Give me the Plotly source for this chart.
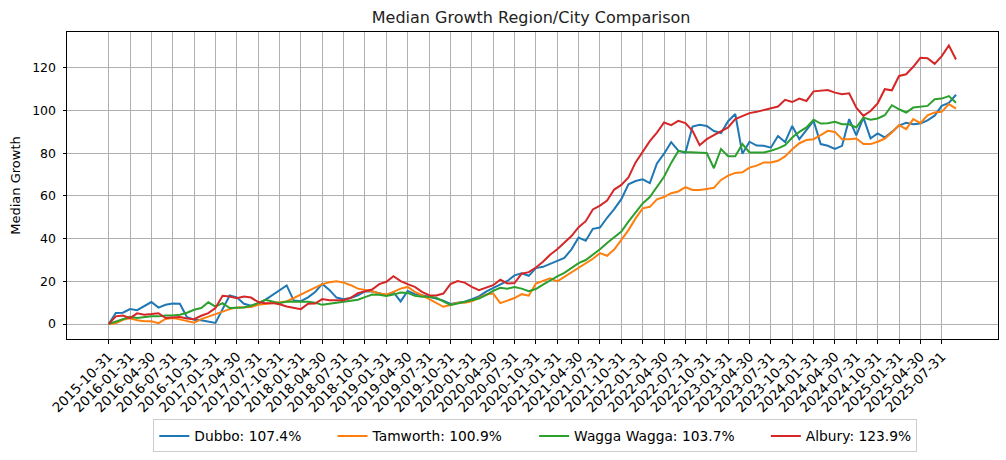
import pandas as pd
import plotly.graph_objects as go

# month-end dates, 2015-10-31 .. 2025-09-30
dates = pd.date_range('2015-10-31', periods=120, freq='ME').strftime('%Y-%m-%d').tolist()
tick_dates = dates[::3]

dubbo = [0, 5.2, 5.3, 7, 6.5, 8.6, 10.3, 7.7, 9, 9.6,
         9.5, 3.2, 2, 1.8, 1.2, 0.5, 7, 13.4, 12.5, 9.5,
         8.6, 9.6, 11.3, 13.7, 15.8, 18.1, 11, 10.7, 12.5, 15,
         18.8, 16, 12.4, 11.6, 12.2, 13.5, 15.3, 15.3, 14.4, 13.5,
         14.9, 10.6, 15.5, 14, 13.5, 12.8, 12, 11, 9.4, 10,
         10.5, 11.6, 13, 15.2, 16.8, 18.5, 20.2, 22.8, 23.8, 22.6,
         26.2, 26.8, 28.1, 29.6, 31, 35, 40.5, 39, 44.6, 45.2,
         49.8, 53.8, 58.5, 65.5, 67, 67.8, 66, 75.2, 79.8, 85.2,
         81.2, 80.2, 92.5, 93.4, 92.8, 90.4, 89.5, 95, 98.4, 79.8,
         85.4, 83.6, 83.5, 82.6, 88.1, 85.2, 92.8, 86.6, 90.8, 95.2,
         84.3, 83.5, 82, 83.5, 96, 88.4, 96.7, 87, 89.3, 87.4,
         90, 93, 94.3, 93.6, 93.9, 95.4, 97.6, 102.2, 103.6, 107.4]

tamworth = [0, 0.4, 2, 2.7, 1.8, 1.3, 1.3, 0.4, 2.4, 2.8,
            2.2, 1.5, 0.6, 2.3, 3.5, 4.5, 5.8, 7, 7.8, 7.9,
            8, 9, 9.5, 9.8, 10.2, 10.6, 12.2, 13.8, 15.4, 17,
            18.7, 19.6, 20, 19.4, 18.2, 16.6, 15.9, 15.4, 14.3, 13.8,
            15.1, 16.6, 17.4, 15.1, 13.5, 11.7, 9.6, 8.1, 8.9, 10,
            10, 10.7, 12.3, 13.8, 14.3, 9.8, 11, 12.2, 14, 13.3,
            19, 20.2, 21.4, 20, 22.1, 24.2, 26.5, 28.3, 30.6, 33.2,
            32, 34.9, 39.2, 44, 49.5, 54.2, 54.9, 58.4, 59.5, 61.3,
            62.1, 64.1, 62.8, 62.8, 63.3, 63.8, 67.5, 69.5, 70.8, 71.1,
            73.3, 74.2, 75.7, 75.7, 76.5, 78.5, 81.9, 84.7, 86.2, 86.6,
            88.5, 90.5, 90, 86.6, 86.6, 86.9, 84.3, 84.3, 85.4, 86.9,
            89.7, 93.2, 91.3, 96, 94.1, 97.8, 99.1, 99.4, 103, 100.9]

wagga = [0, 1.2, 2.3, 3.4, 2.8, 3.3, 3.6, 3.6, 4, 4,
         4.4, 5.3, 6.7, 7.5, 10.2, 8.2, 9.8, 7.5, 7.8, 7.8,
         8.6, 9.8, 11.4, 10.6, 9.8, 10.6, 10.6, 10.6, 10.4, 10,
         9, 9.5, 10, 10.7, 11.2, 11.4, 12.6, 13.8, 13.7, 13.2,
         13.8, 14.8, 14.6, 13.2, 12.8, 12.8, 12.3, 10.4, 8.9, 9.6,
         10.4, 11, 12, 13.5, 15.5, 17, 16.6, 17.4, 16.6, 15.4,
         16.4, 18.5, 20.5, 22.3, 24, 26.2, 28.5, 30, 32.5, 35,
         38, 40.5, 43.3, 48, 52.5, 56.5, 59.5, 64.5, 69, 75.5,
         81, 80.6, 80.4, 80.4, 80.1, 73, 82, 78.6, 78.6, 84.3,
         80.4, 80.4, 80.4, 81.2, 82.3, 83.8, 87.4, 90, 92.1, 95.7,
         93.9, 94.1, 94.7, 93.6, 93.6, 92.1, 96.7, 95.7, 96.3, 97.8,
         102.5, 100.6, 99.1, 101.4, 101.9, 102.2, 105.3, 105.6, 106.8, 103.7]

albury = [0, 3.6, 4, 2.8, 5, 4.4, 4.7, 5.1, 2.8, 3.1,
          3.3, 2.6, 2.3, 3.9, 5.1, 7.5, 13.2, 12.9, 12.1, 12.9,
          12.4, 10.3, 9.8, 9.8, 9.3, 8.2, 7.6, 7, 9.5, 9.6,
          11.7, 11.2, 11.2, 11.2, 12.3, 14.5, 15.4, 16.2, 18.7, 19.8,
          22.4, 20.1, 18.7, 17.4, 15.1, 13.5, 13.4, 14.3, 18.7, 20.1,
          19.4, 17.4, 15.9, 17, 18.2, 20.8, 19, 19.2, 23.6, 24.3,
          26.5, 29.2, 32.5, 35, 38, 41.2, 45.4, 48.2, 53.7, 55.5,
          57.9, 63, 65.2, 68.7, 75.7, 81, 85.7, 89.7, 94.4, 93.2,
          95.2, 94.1, 90.5, 83.8, 86.6, 88.5, 90.5, 92.1, 96, 97.5,
          98.8, 99.4, 100.3, 101, 101.9, 105, 104, 105.6, 104.5, 109,
          109.2, 109.6, 108.4, 107.6, 108.1, 101.4, 97.5, 99.8, 103.4, 110,
          109.5, 116.2, 117, 120.5, 124.7, 124.5, 121.9, 125.5, 130.5, 123.9]

series = [('Dubbo', dubbo, '#1f77b4'),
          ('Tamworth', tamworth, '#ff7f0e'),
          ('Wagga Wagga', wagga, '#2ca02c'),
          ('Albury', albury, '#d62728')]
gaps = [6, 6, 6, 0]  # extra spacing after each legend entry

fig = go.Figure()
for (name, vals, col), g in zip(series, gaps):
    label = '%s: %.1f%%' % (name, vals[-1]) + '\u00a0' * g
    fig.add_trace(go.Scatter(x=dates, y=vals, mode='lines', name=label,
                             line=dict(color=col, width=2)))

font = 'DejaVu Sans, sans-serif'
fig.update_layout(
    width=1006, height=460,
    margin=dict(l=67, r=8, t=32, b=119),
    plot_bgcolor='white', paper_bgcolor='white',
    font=dict(family=font, size=12.5, color='black'),
    title=dict(text='Median Growth Region/City Comparison', x=0.528, xanchor='center',
               y=0.962, yanchor='middle', font=dict(size=16, color='#222')),
    showlegend=True,
    legend=dict(orientation='h', x=0.503, xanchor='center', y=-0.262, yanchor='top',
                bordercolor='#cccccc', borderwidth=1, bgcolor='white',
                font=dict(size=13.8), itemwidth=30),
)
fig.update_xaxes(type='category', range=[-5.85, 124.9], automargin=False,
                 tickmode='array', tickvals=tick_dates, ticktext=tick_dates,
                 tickangle=-45, tickfont=dict(size=13.5),
                 ticks='outside', ticklen=3.5, tickcolor='black',
                 showgrid=True, gridcolor='#b0b0b0', gridwidth=1,
                 showline=True, linecolor='black', linewidth=1, mirror=True,
                 zeroline=False)
fig.update_yaxes(range=[-7.0, 136.8], tick0=0, dtick=20, automargin=False,
                 ticks='outside', ticklen=3.5, tickcolor='black', ticklabelstandoff=4,
                 showgrid=True, gridcolor='#b0b0b0', gridwidth=1,
                 showline=True, linecolor='black', linewidth=1, mirror=True,
                 zeroline=False,
                 title=dict(text='Median Growth', font=dict(size=13), standoff=8))

# drop the page's default body margin so the figure sits at the window origin
fig.write_html("out.html", config={'displayModeBar': False},
               post_script="document.body.style.margin='0px';")
